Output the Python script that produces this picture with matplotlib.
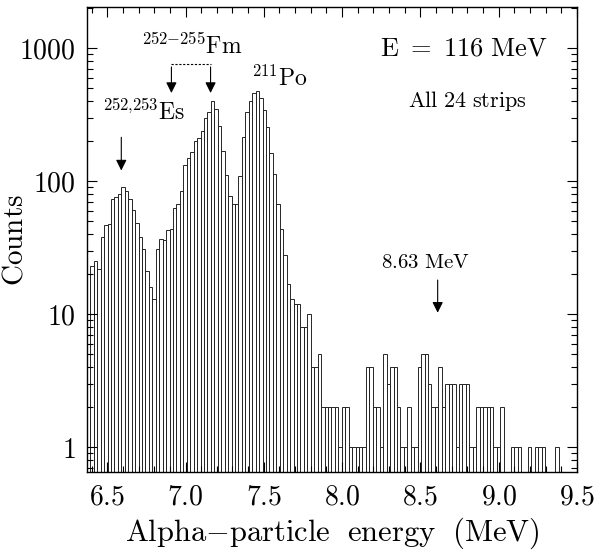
import numpy as np
import matplotlib
matplotlib.use('Agg')
import matplotlib.pyplot as plt
from matplotlib.ticker import FixedLocator, LogLocator, MultipleLocator, NullFormatter

plt.rcParams['mathtext.fontset'] = 'cm'
plt.rcParams['font.family'] = 'serif'
plt.rcParams['font.serif'] = ['DejaVu Serif']

# histogram of alpha energies, bins of 22 keV starting at 6.37 MeV
e_start = 6.37
bin_w = 0.022
counts = [20, 23, 25, 22, 38, 47, 48, 74, 76, 81,
          90, 85, 74, 61, 49, 38, 31, 21, 16, 13,
          31, 37, 36, 43, 44, 63, 68, 85, 132, 150,
          165, 200, 210, 240, 300, 330, 400, 350, 260, 170,
          111, 78, 68, 68, 110, 215, 330, 405, 460, 480,
          420, 343, 254, 162, 114, 68, 44, 28, 17, 13,
          12, 12, 8, 8, 10, 4, 4, 5, 2, 2,
          2, 2, 2, 1, 2, 2, 1, 1, 1, 1,
          1, 4, 4, 2, 2, 1, 5, 3, 4, 4,
          2, 1, 1, 2, 1, 1, 4, 5, 5, 3,
          2, 2, 4, 2, 3, 3, 3, 1, 3, 3,
          3, 1, 1, 2, 2, 2, 2, 2, 1, 1,
          2, 0, 0, 1, 1, 1, 0, 0, 1, 0,
          1, 1, 1, 0, 0, 0, 1, 0, 0, 0,
          0, 0]

xticks = [6.5, 7.0, 7.5, 8.0, 8.5, 9.0, 9.5]
xtick_labels = ['6.5', '7.0', '7.5', '8.0', '8.5', '9.0', '9.5']
yticks = [1, 10, 100, 1000]
ytick_labels = ['1', '10', '100', '1000']

c = np.array(counts, dtype=float)
edges = e_start + bin_w * np.arange(len(c))
m = c > 0

fig = plt.figure(figsize=(6.03, 5.51), dpi=100)
ax = fig.add_axes([0.144, 0.143, 0.813, 0.844])

ax.bar(edges[m], c[m] - 0.5, bottom=0.5, width=bin_w, align='edge',
       fill=False, edgecolor='0.15', linewidth=0.7)

ax.set_yscale('log')
ax.set_xlim(6.37, 9.5)
ax.set_ylim(0.65, 2040)

ax.xaxis.set_major_locator(FixedLocator(xticks))
ax.xaxis.set_minor_locator(MultipleLocator(0.1))
ax.set_xticklabels([r'$\mathrm{%s}$' % s for s in xtick_labels], fontsize=20)
ax.yaxis.set_major_locator(FixedLocator(yticks))
ax.yaxis.set_minor_locator(LogLocator(subs=range(2, 10)))
ax.yaxis.set_minor_formatter(NullFormatter())
ax.set_yticklabels([r'$\mathrm{%s}$' % s for s in ytick_labels], fontsize=20)

ax.tick_params(which='both', direction='in', top=True, right=True, width=0.8)
ax.tick_params(which='major', length=7, pad=8)
ax.tick_params(which='minor', length=4)
for s in ax.spines.values():
    s.set_linewidth(1.0)

ax.set_xlabel(r'$\mathrm{Alpha{-}particle\ \ energy\ \ (MeV)}$', fontsize=22, labelpad=4)
ax.set_ylabel(r'$\mathrm{Counts}$', fontsize=21)
ax.yaxis.set_label_coords(-0.118, 0.5)

# labels
ax.text(8.78, 1000, r'$\mathrm{E\ =\ 116\ MeV}$', fontsize=19, ha='center', va='center')
ax.text(8.80, 400, r'$\mathrm{All\ 24\ strips}$', fontsize=16, ha='center', va='center')
ax.text(7.04, 1040, r'$^{252{-}255}\mathrm{Fm}$', fontsize=17, ha='center', va='center')
ax.text(7.60, 600, r'$^{211}\mathrm{Po}$', fontsize=17, ha='center', va='center')
ax.text(6.73, 330, r'$^{252{,}253}\mathrm{Es}$', fontsize=17, ha='center', va='center')
ax.text(8.53, 24.6, r'$\mathrm{8.63\ MeV}$', fontsize=15, ha='center', va='center')

arr = dict(arrowstyle='-|>', color='k', lw=0.8, mutation_scale=16)
ax.annotate('', xy=(6.59, 115), xytext=(6.59, 225), arrowprops=arr)
ax.annotate('', xy=(8.61, 9.8), xytext=(8.61, 19), arrowprops=arr)
ax.annotate('', xy=(6.91, 440), xytext=(6.91, 760), arrowprops=arr)
ax.annotate('', xy=(7.16, 440), xytext=(7.16, 760), arrowprops=arr)
ax.plot([6.91, 7.16], [760, 760], color='k', lw=0.8, ls=(0, (2, 1.5)))

fig.savefig('out.png', dpi=100)
